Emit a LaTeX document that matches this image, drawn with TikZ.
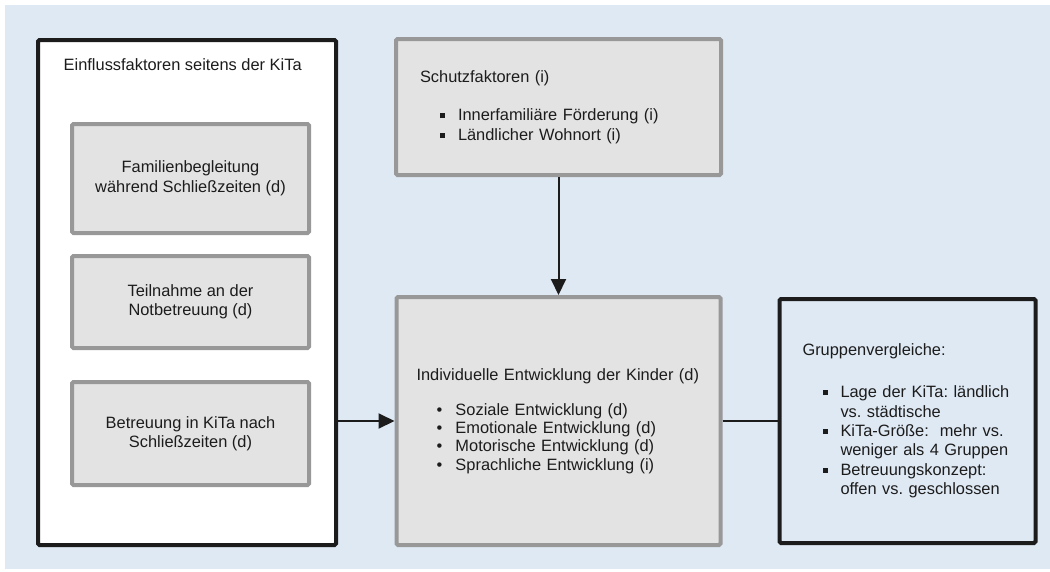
\documentclass[tikz,border=0pt]{standalone}
\usepackage{fontspec}
\setmainfont{Liberation Sans}
\usetikzlibrary{positioning,arrows.meta}

\definecolor{bgblue}{RGB}{223,233,244}
\definecolor{boxgray}{RGB}{227,227,227}
\definecolor{linegray}{RGB}{152,152,152}
\definecolor{ink}{RGB}{28,28,28}

\newcommand{\sqitem}[1]{\hspace*{20pt}\makebox[18pt][l]{\rule[2.5pt]{5pt}{5pt}}#1}
\newcommand{\dotitem}[1]{\hspace*{20pt}\makebox[19pt][l]{\textbullet}#1}
\newcommand{\contline}[1]{\hspace*{38pt}#1}

\begin{document}
\frenchspacing
\begin{tikzpicture}[x=1pt, y=-1pt, thick, font=\fontsize{16.4}{19.5}\selectfont, text=ink,
  outerbox/.style={draw=ink, line width=4pt, rounded corners=1.5pt},
  graybox/.style={draw=linegray, fill=boxgray, line width=4pt, rounded corners=1.5pt, align=center, minimum width=237pt},
  arr/.style={line width=2pt, draw=ink, -{Triangle[length=16pt, width=15pt]}}]
  % Background
  \useasboundingbox (0,0) rectangle (1050,571);
  \fill[bgblue] (5,5) rectangle (1050,569);

  % Nodes
  \node[outerbox, fill=white, minimum width=298pt, minimum height=505pt] (kita) at (187,292.5) {};
  \node[anchor=base west] (kitatitle) at (60,70) {Einflussfaktoren seitens der KiTa};
  \node[graybox, minimum height=109pt] (fam) at (190.5,178.5) {Familienbegleitung\\während Schließzeiten (d)};
  \node[graybox, minimum height=92pt, below=19pt of fam] (notb) {Teilnahme an der\\Notbetreuung (d)};
  \node[graybox, minimum height=103pt, below=30pt of notb] (betr) {Betreuung in KiTa nach\\Schließzeiten (d)};

  \node[graybox, align=left, text width=277pt, minimum width=325pt, minimum height=136pt] (schutz) at (558.5,107)
    {Schutzfaktoren (i)\\[19pt]\sqitem{Innerfamiliäre Förderung (i)}\\\sqitem{Ländlicher Wohnort (i)}};
  \node[graybox, align=left, text width=284pt, minimum width=324pt, minimum height=248pt, below=118pt of schutz,
    font=\fontsize{16.4}{18.4}\selectfont] (ent)
    {Individuelle Entwicklung der Kinder (d)\\[16.5pt]\dotitem{Soziale Entwicklung (d)}\\\dotitem{Emotionale Entwicklung (d)}\\\dotitem{Motorische Entwicklung (d)}\\\dotitem{Sprachliche Entwicklung (i)}};
  \node[outerbox, align=left, text width=210pt, minimum width=256pt, minimum height=244pt, right=55pt of ent,
    font=\fontsize{16.4}{19.4}\selectfont] (grp)
    {Gruppenvergleiche:\\[22.6pt]\sqitem{Lage der KiTa: ländlich}\\\contline{vs. städtische}\\\sqitem{KiTa-Größe: \ mehr vs.}\\\contline{weniger als 4 Gruppen}\\\sqitem{Betreuungskonzept:}\\\contline{offen vs. geschlossen}};

  % Edges
  \draw[arr] (schutz.south) -- (ent.north);
  \draw[arr] (kita.east |- ent.west) -- (ent.west);
  \draw[line width=2pt, draw=ink] (ent.east) -- (grp.west);
\end{tikzpicture}
\end{document}
